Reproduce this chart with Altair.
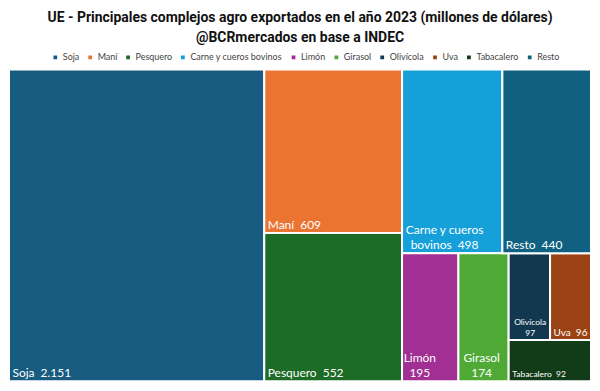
import altair as alt
import pandas as pd

# ---- data ----
names = ["Soja", "Maní", "Pesquero", "Carne y cueros bovinos", "Limón",
         "Girasol", "Olivícola", "Uva", "Tabacalero", "Resto"]
values = [2151, 609, 552, 498, 195, 174, 97, 96, 92, 440]
colors = ["#175C80", "#EB7433", "#1C6B27", "#16A0DA", "#A22F93",
          "#4EAA35", "#12384F", "#9B4214", "#123C17", "#0F6081"]
NB = "\u00a0 "
label_lines = [["Soja" + NB + "2.151"], ["Maní" + NB + "609"], ["Pesquero" + NB + "552"],
               ["Carne y cueros", "bovinos" + NB + "498"], ["Limón", "195"],
               ["Girasol", "174"], ["Olivícola", "97"], ["Uva" + NB + "96"],
               ["Tabacalero" + NB + "92"], ["Resto" + NB + "440"]]
label_sizes = [12, 12, 12, 12, 12, 12, 8.5, 10, 8.5, 12]

# treemap strips (Power BI-like squarified order)
strips = [("col", ["Soja"]), ("col", ["Maní", "Pesquero"]),
          ("row", ["Carne y cueros bovinos", "Resto"]),
          ("col", ["Limón"]), ("col", ["Girasol"]),
          ("row", ["Olivícola", "Uva"]), ("row", ["Tabacalero"])]

W, H = 584, 313
val = dict(zip(names, values))

rects = {}
x0, y0, x1, y1 = 0.0, 0.0, float(W), float(H)
rest = float(sum(values))
for kind, items in strips:
    s = sum(val[i] for i in items)
    if kind == "col":
        w = (x1 - x0) * s / rest
        yy = y0
        for it in items:
            h = (y1 - y0) * val[it] / s
            rects[it] = (x0, x0 + w, yy, yy + h)
            yy += h
        x0 += w
    else:
        h = (y1 - y0) * s / rest
        xx = x0
        for it in items:
            w = (x1 - x0) * val[it] / s
            rects[it] = (xx, xx + w, y0, y0 + h)
            xx += w
        y0 += h
    rest -= s

rect_rows = []
text_rows = []
for n, v, lines, fs in zip(names, values, label_lines, label_sizes):
    a, b, c, d = rects[n]
    rect_rows.append(dict(name=n, value=v, x=a, x2=b, y=c, y2=d))
    lh = fs * 1.27
    bw = max(len(t) * fs * 0.46 for t in lines)
    nl = len(lines)
    for i, t in enumerate(lines):
        text_rows.append(dict(name=n, text=t, fs=fs, multi=nl > 1,
                              lx=a + 3.5, cx=a + 4 + bw / 2,
                              ly=d - 4 - (nl - 1 - i) * lh))
rdf = pd.DataFrame(rect_rows)
tdf = pd.DataFrame(text_rows)

xs = alt.Scale(domain=[0, W], nice=False, zero=False)
ys = alt.Scale(domain=[0, H], nice=False, zero=False, reverse=True)
color = alt.Color("name:N", scale=alt.Scale(domain=names, range=colors),
                  legend=alt.Legend(title=None, orient="none", direction="horizontal",
                                    legendX=42, legendY=-17,
                                    symbolType="square", symbolSize=28,
                                    labelFontSize=9, labelFont="Lato",
                                    labelColor="#444444", columnPadding=4,
                                    labelOffset=3))

rect = alt.Chart(rdf).mark_rect(stroke="white", strokeWidth=2).encode(
    x=alt.X("x:Q", scale=xs, axis=None),
    x2="x2:Q",
    y=alt.Y("y:Q", scale=ys, axis=None),
    y2="y2:Q",
    color=color,
)
single = alt.Chart(tdf).transform_filter("!datum.multi").mark_text(
    align="left", baseline="alphabetic", color="white", font="Lato"
).encode(
    x=alt.X("lx:Q", scale=xs, axis=None),
    y=alt.Y("ly:Q", scale=ys, axis=None),
    text="text:N",
    size=alt.Size("fs:Q", scale=None, legend=None),
)
multi = alt.Chart(tdf).transform_filter("datum.multi").mark_text(
    align="center", baseline="alphabetic", color="white", font="Lato"
).encode(
    x=alt.X("cx:Q", scale=xs, axis=None),
    y=alt.Y("ly:Q", scale=ys, axis=None),
    text="text:N",
    size=alt.Size("fs:Q", scale=None, legend=None),
)

chart = alt.layer(rect, single, multi).properties(
    width=W, height=H,
    padding={"left": 0, "right": 0, "top": 2, "bottom": 0},
    title=alt.TitleParams(
        text=["UE -  Principales complejos agro exportados en el año 2023 (millones de dólares)",
              "@BCRmercados en base a INDEC"],
        font="Roboto", fontSize=14, fontWeight="bold",
        color="#111111", anchor="middle", lineHeight=20, offset=8),
).configure_view(stroke=None)

chart.save("out.html", embed_options={"renderer": "svg", "actions": False})
